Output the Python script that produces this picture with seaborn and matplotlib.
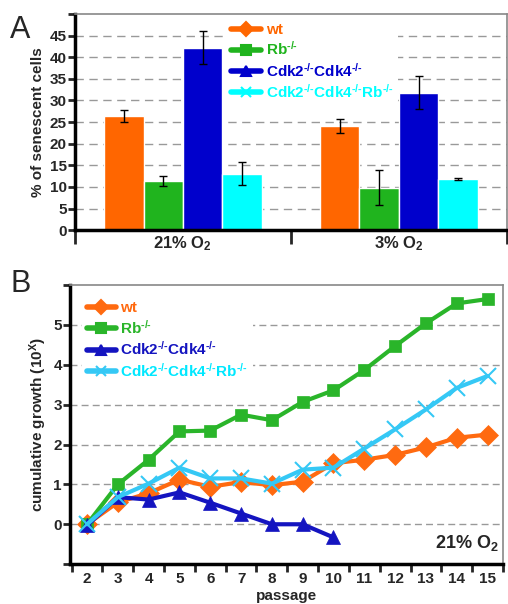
import numpy as np
import pandas as pd
import matplotlib
matplotlib.use("Agg")
import matplotlib.pyplot as plt
import seaborn as sns
from matplotlib.lines import Line2D

sns.set_theme(style="white")
plt.rcParams['font.family'] = ['Liberation Sans', 'DejaVu Sans']
plt.rcParams['font.weight'] = 'bold'
plt.rcParams['mathtext.fontset'] = 'custom'
plt.rcParams['mathtext.bf'] = 'Liberation Sans:bold'
plt.rcParams['mathtext.rm'] = 'Liberation Sans:bold'
plt.rcParams['mathtext.default'] = 'bf'

# %% data
genotypes = ["wt", "Rb-/-", "Cdk2-/-Cdk4-/-", "Cdk2-/-Cdk4-/-Rb-/-"]
labels = ["wt", r"Rb$^{\text{-/-}}$", r"Cdk2$^{\text{-/-}}$Cdk4$^{\text{-/-}}$",
          r"Cdk2$^{\text{-/-}}$Cdk4$^{\text{-/-}}$Rb$^{\text{-/-}}$"]
conditions = ["21% O2", "3% O2"]
cond_labels = [r"21% O$_2$", r"3% O$_2$"]

sen_21 = [26.3, 11.3, 42.0, 12.9]
sen_3 = [24.0, 9.7, 31.6, 11.8]
err_lo_21 = [25.0, 10.3, 38.5, 10.4]
err_hi_21 = [27.8, 12.5, 46.0, 15.7]
err_lo_3 = [22.5, 5.8, 27.9, 11.5]
err_hi_3 = [25.6, 14.0, 35.7, 12.1]

passage = list(range(2, 16))
growth_wt = [0.0, 0.55, 0.78, 1.12, 0.94, 1.06, 0.98, 1.07, 1.53, 1.62, 1.74, 1.93, 2.17, 2.25]
growth_rb = [0.0, 1.0, 1.62, 2.33, 2.35, 2.75, 2.61, 3.07, 3.36, 3.87, 4.47, 5.04, 5.54, 5.65]
passage_dko = list(range(2, 11))
growth_dko = [-0.03, 0.68, 0.62, 0.80, 0.54, 0.27, 0.0, 0.0, -0.33]
growth_tko = [0.0, 0.68, 1.02, 1.42, 1.15, 1.15, 1.02, 1.37, 1.42, 1.90, 2.38, 2.88, 3.42, 3.72]

bar_colors = ["#FF6600", "#20B41E", "#0000CC", "#00FFFF"]
line_colors = ["#FF6A10", "#2AB52A", "#1414C0", "#35C8F5"]
text_colors_b = ["#FF6A10", "#2AB52A", "#1414C0", "#00E8FF"]
markers = ["D", "s", "^", "x"]

# %%
fig = plt.figure(figsize=(5.08, 6.04), dpi=100)
axA = fig.add_axes([0.1476, 0.619, 0.85, 0.358])
axB = fig.add_axes([0.138, 0.066, 0.852, 0.462])

dfA = pd.DataFrame({
    "cond": np.repeat(conditions, 4),
    "geno": genotypes * 2,
    "val": sen_21 + sen_3,
})
sns.barplot(data=dfA, x="cond", y="val", hue="geno", hue_order=genotypes,
            palette=bar_colors, width=0.73, errorbar=None, saturation=1,
            legend=False, ax=axA, zorder=2)
lo = [err_lo_21, err_lo_3]
hi = [err_hi_21, err_hi_3]
bar_conts = list(axA.containers)
for gi, cont in enumerate(bar_conts):
    for ci, bar in enumerate(cont):
        xc = bar.get_x() + bar.get_width() / 2
        h = bar.get_height()
        axA.errorbar(xc, h, yerr=[[h - lo[ci][gi]], [hi[ci][gi] - h]],
                     fmt="none", ecolor="black", elinewidth=1, capsize=3,
                     capthick=1, zorder=3)

axA.set_xlim(-0.5, 1.5)
axA.set_ylim(0, 50)
axA.set_yticks(np.arange(0, 51, 5))
axA.set_yticklabels([str(v) for v in range(0, 50, 5)] + [""])
for v in range(5, 50, 5):
    axA.axhline(v, color="#999999", lw=1, ls=(0, (6, 4)), zorder=0)
axA.set_xticks([-0.5, 0.5, 1.5])
axA.set_xticklabels([])
axA.set_xticks([0, 1], minor=True)
axA.set_xticklabels(cond_labels, minor=True, fontsize=12, fontweight="bold")
axA.tick_params(axis="x", which="major", length=10, width=2, direction="out", bottom=True)
axA.tick_params(axis="x", which="minor", length=0, pad=3, bottom=True)
axA.tick_params(axis="y", length=5, width=2, direction="out", left=True, labelsize=11, pad=1)
for t in axA.get_yticklabels():
    t.set_fontweight("bold")
axA.set_xlabel("")
axA.set_ylabel("% of senescent cells", fontsize=11, fontweight="bold", labelpad=3)

handlesA = [Line2D([], [], color=c, lw=4, marker=m, markersize=7, mew=1.5)
            for c, m in zip(bar_colors, markers)]
legA = axA.legend(handlesA, labels, loc="upper left", bbox_to_anchor=(0.345, 0.99),
                  frameon=True, facecolor="white", edgecolor="none", framealpha=1,
                  fontsize=11, handlelength=2.0, handletextpad=0.3,
                  labelspacing=0.22, borderpad=0.25, borderaxespad=0.2)
for t, c in zip(legA.get_texts(), bar_colors):
    t.set_color(c)
    t.set_fontweight("bold")

# %% panel B
sizes = [10, 9, 10, 11]
seriesB = [(passage, growth_wt), (passage, growth_rb), (passage_dko, growth_dko), (passage, growth_tko)]
for (xs, ys), c, m, s in zip(seriesB, line_colors, markers, sizes):
    sns.lineplot(x=xs, y=ys, color=c, lw=3, marker=m, markersize=s,
                 markeredgecolor=c, markeredgewidth=1.5 if m == "x" else 0.5,
                 ax=axB, zorder=3)

axB.set_xlim(1.45, 15.35)
axB.set_ylim(-1, 6)
axB.set_yticks(range(-1, 7))
axB.set_yticklabels([""] + [str(v) for v in range(0, 6)] + [""])
for v in range(0, 6):
    axB.axhline(v, color="#999999", lw=1, ls=(0, (5, 3)), zorder=0)
axB.set_xticks(np.arange(1.5, 15.6, 1))
axB.set_xticklabels([])
axB.set_xticks(passage, minor=True)
axB.set_xticklabels([str(p) for p in passage], minor=True, fontsize=11, fontweight="bold")
axB.tick_params(axis="x", which="major", length=6, width=2, direction="out", bottom=True)
axB.tick_params(axis="x", which="minor", length=0, pad=6, bottom=True)
axB.tick_params(axis="y", length=5, width=2, direction="out", left=True, labelsize=11, pad=1)
for t in axB.get_yticklabels():
    t.set_fontweight("bold")
axB.set_xlabel("passage", fontsize=11, fontweight="bold")
axB.xaxis.set_label_coords(0.5, -0.088)
axB.set_ylabel(r"cumulative growth (10$^{\mathrm{X}}$)", fontsize=11, fontweight="bold", labelpad=3)
axB.text(0.99, 0.04, r"21% O$_2$", transform=axB.transAxes, ha="right", va="bottom",
         fontsize=13, fontweight="bold")

handlesB = [Line2D([], [], color=c, lw=4, marker=m, markersize=7, mew=1.5)
            for c, m in zip(line_colors, markers)]
legB = axB.legend(handlesB, labels, loc="upper left", bbox_to_anchor=(0.01, 0.985),
                  frameon=True, facecolor="white", edgecolor="none", framealpha=1,
                  fontsize=11, handlelength=1.9, handletextpad=0.3,
                  labelspacing=0.22, borderpad=0.3)
for t, c in zip(legB.get_texts(), text_colors_b):
    t.set_color(c)
    t.set_fontweight("bold")

for ax in (axA, axB):
    for side in ("left", "bottom"):
        ax.spines[side].set_color("black")
        ax.spines[side].set_linewidth(2.5)
    for side in ("top", "right"):
        ax.spines[side].set_color("#888888")
        ax.spines[side].set_linewidth(1.2)

fig.text(0.02, 0.975, "A", fontsize=22, fontweight="normal", va="top")
fig.text(0.02, 0.555, "B", fontsize=22, fontweight="normal", va="top")

fig.savefig("out.png", dpi=100)
